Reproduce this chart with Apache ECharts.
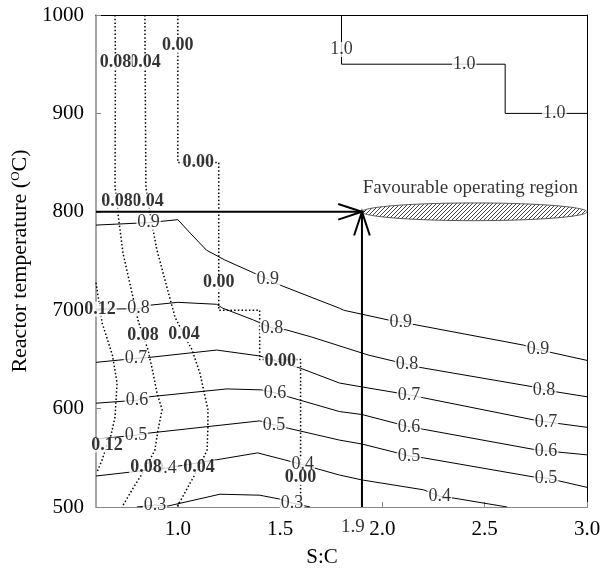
<!DOCTYPE html>
<html>
<head>
<meta charset="utf-8">
<script src="https://cdn.jsdelivr.net/npm/echarts@6/dist/echarts.min.js"></script>
<style>
  html, body { margin: 0; padding: 0; background: #fff; }
  #chart { width: 612px; height: 571px; }
</style>
</head>
<body>
<div id="chart"></div>
<script>
// Axis tick values
const xTicks = [1.0, 1.5, 2.0, 2.5, 3.0];
const yRange = [500, 1000];

// Solid contours: [S:C, temperature] vertices, and where each level is labelled
const contour10 = [[1.8, 1000], [1.8, 965], [1.8, 950], [2.4, 950], [2.6, 950], [2.6, 900], [2.84, 900], [3.0, 900]];
const contour10Labels = [[1.8, 965], [2.4, 950], [2.84, 900]];

const contour09 = [[0.6, 786.5], [0.857, 789], [1.0, 792], [1.06, 778.5], [1.14, 761], [1.23, 751], [1.37, 738], [1.44, 731.5],
  [1.5, 725.5], [1.79, 702], [1.81, 700], [2.03, 690], [2.09, 688], [2.69, 664.5], [2.76, 660], [3.0, 649]];
const contour09Labels = [[0.857, 789], [1.44, 731.5], [2.09, 688], [2.76, 660]];

const contour08 = [[0.6, 701], [0.808, 701.5], [0.86, 705], [1.0, 708], [1.19, 706], [1.22, 702], [1.37, 690], [1.46, 682],
  [1.53, 680], [1.65, 673], [1.93, 654.5], [2.12, 645], [2.18, 642], [2.74, 622], [2.79, 619], [3.0, 612]];
const contour08Labels = [[0.808, 701.5], [1.46, 682], [2.12, 645], [2.79, 619]];

const contour07 = [[0.6, 647], [0.795, 651], [0.86, 652], [1.19, 659.5], [1.4, 653.5], [1.6, 641], [1.79, 626], [1.9, 622],
  [2.13, 614], [2.2, 611], [2.74, 588.5], [2.8, 586.5], [3.0, 581]];
const contour07Labels = [[0.795, 651], [2.13, 614], [2.8, 586.5]];

const contour06 = [[0.6, 605.5], [0.8, 608.5], [0.86, 612], [1.24, 620], [1.41, 619], [1.475, 616], [1.54, 612], [1.79, 597],
  [1.9, 594], [2.13, 581.5], [2.2, 579], [2.74, 558.5], [2.8, 557], [3.0, 553]];
const contour06Labels = [[0.8, 608.5], [1.475, 616], [2.13, 581.5], [2.8, 557]];

const contour05 = [[0.6, 569], [0.795, 573], [0.854, 575], [1.4, 587.5], [1.47, 583.5], [1.54, 580], [1.79, 568], [1.9, 564],
  [2.13, 552], [2.2, 550], [2.74, 530.5], [2.8, 529.5], [3.0, 520]];
const contour05Labels = [[0.795, 573], [1.47, 583.5], [2.13, 552], [2.8, 529.5]];

const contour04 = [[0.6, 531.5], [0.94, 539.5], [1.19, 548], [1.39, 555], [1.52, 548], [1.61, 543], [1.67, 539.5], [1.79, 532.5],
  [1.9, 527.5], [2.2, 517.5], [2.28, 511], [2.35, 509], [2.61, 500]];
const contour04Labels = [[0.94, 539.5], [1.61, 543], [2.28, 511]];

const contour03 = [[0.8, 500], [0.888, 502], [0.952, 501], [1.206, 513], [1.4, 512], [1.5, 508], [1.558, 504], [1.646, 500]];
const contour03Labels = [[0.888, 502], [1.558, 504]];

// Dotted contours (bold labels)
const contour012 = [[0.6, 728], [0.62, 701], [0.63, 687], [0.68, 654.5], [0.703, 626], [0.693, 591.5], [0.668, 568],
  [0.654, 563], [0.63, 548], [0.605, 535.5]];
const contour012Labels = [[0.62, 701], [0.654, 563]];

const contour008 = [[0.693, 1000], [0.695, 952], [0.693, 825], [0.703, 811], [0.708, 797], [0.732, 758], [0.776, 717.5],
  [0.805, 690], [0.83, 674], [0.854, 660], [0.879, 636], [0.898, 616], [0.923, 599], [0.903, 578], [0.888, 558],
  [0.844, 540], [0.781, 519], [0.727, 500]];
const contour008Labels = [[0.695, 952], [0.703, 811], [0.83, 674], [0.844, 540]];

const contour004 = [[0.839, 1000], [0.84, 952], [0.844, 825], [0.854, 811], [0.874, 787], [0.898, 761], [0.947, 723],
  [0.986, 693], [1.03, 675], [1.069, 660], [1.108, 636], [1.147, 599], [1.147, 581], [1.143, 558], [1.103, 540],
  [1.059, 524], [0.996, 500]];
const contour004Labels = [[0.84, 952], [0.854, 811], [1.03, 675], [1.103, 540]];

const contour000 = [[1.0, 1000], [1.0, 969], [1.0, 850], [1.1, 850], [1.2, 850], [1.2, 728], [1.2, 700], [1.4, 700],
  [1.4, 650], [1.5, 650], [1.6, 650], [1.6, 530], [1.6, 500]];
const contour000Labels = [[1.0, 969], [1.1, 850], [1.2, 728], [1.5, 648], [1.6, 530]];

// Chosen operating point (S:C = 1.9, 800 °C) and the favourable region
const arrowSegments = [[0.6, 800, 1.9, 800], [1.9, 500, 1.9, 800]];
const operatingPoint = [[1.9, 500]];
const regionBox = [[1.9, 3.0, 791, 809]];
const regionTitle = [[2.43, 824]];

const FONT = '"Liberation Serif", "Times New Roman", serif';

function contourLine(path, dotted) {
  return {
    type: 'line', data: path, symbol: 'none', silent: true, animation: false, z: 2,
    lineStyle: dotted
      ? { color: '#000', width: 1.5, type: [1.5, 2.2] }
      : { color: '#000', width: 1 }
  };
}

function contourLabels(points, text, bold, z) {
  return {
    type: 'scatter', data: points, symbolSize: 1, silent: true, animation: false, z: z,
    itemStyle: { color: 'transparent' },
    label: {
      show: true, position: 'inside', formatter: text, color: '#000',
      fontFamily: FONT, fontSize: 18, fontWeight: bold ? 'bold' : 'normal',
      backgroundColor: '#fff', padding: [0, 1], lineHeight: 15
    }
  };
}

// diagonal hatch tile for the region ellipse
const hatch = document.createElement('canvas');
hatch.width = 4; hatch.height = 4;
const hg = hatch.getContext('2d');
hg.fillStyle = '#fff'; hg.fillRect(0, 0, 4, 4);
hg.strokeStyle = '#444'; hg.lineWidth = 1;
hg.beginPath();
hg.moveTo(0, 4); hg.lineTo(4, 0);
hg.moveTo(-1, 1); hg.lineTo(1, -1);
hg.moveTo(3, 5); hg.lineTo(5, 3);
hg.stroke();

const series = [
  contourLine(contour10, false), contourLine(contour09, false), contourLine(contour08, false),
  contourLine(contour07, false), contourLine(contour06, false), contourLine(contour05, false),
  contourLine(contour04, false), contourLine(contour03, false),
  contourLine(contour012, true), contourLine(contour008, true), contourLine(contour004, true), contourLine(contour000, true),
  {
    type: 'custom', data: regionBox, encode: { x: [0, 1], y: [2, 3] }, silent: true, animation: false, z: 3,
    renderItem: function (params, api) {
      const a = api.coord([api.value(0), api.value(2)]);
      const b = api.coord([api.value(1), api.value(3)]);
      const cx = (a[0] + b[0]) / 2, cy = (a[1] + b[1]) / 2;
      const rx = Math.abs(b[0] - a[0]) / 2, ry = Math.abs(b[1] - a[1]) / 2;
      const pts = [];
      for (let i = 0; i < 120; i++) {
        const t = i / 120 * Math.PI * 2;
        pts.push([cx + rx * Math.cos(t), cy + ry * Math.sin(t)]);
      }
      return {
        type: 'polygon', shape: { points: pts },
        style: { fill: { image: hatch, repeat: 'repeat' }, stroke: '#555', lineWidth: 1 }
      };
    }
  },
  {
    type: 'custom', data: arrowSegments, encode: { x: [0, 2], y: [1, 3] }, silent: true, animation: false, z: 4,
    renderItem: function (params, api) {
      const a = api.coord([api.value(0), api.value(1)]);
      const b = api.coord([api.value(2), api.value(3)]);
      const ang = Math.atan2(b[1] - a[1], b[0] - a[0]);
      const L = 25, spread = 0.32;
      const p1 = [b[0] - L * Math.cos(ang - spread), b[1] - L * Math.sin(ang - spread)];
      const p2 = [b[0] - L * Math.cos(ang + spread), b[1] - L * Math.sin(ang + spread)];
      return {
        type: 'group', children: [
          { type: 'line', shape: { x1: a[0], y1: a[1], x2: b[0], y2: b[1] }, style: { stroke: '#000', lineWidth: 2 } },
          { type: 'polyline', shape: { points: [p1, b, p2] }, style: { stroke: '#000', lineWidth: 2, fill: null } }
        ]
      };
    }
  },
  contourLabels(contour10Labels, '1.0', false, 5),
  contourLabels(contour09Labels, '0.9', false, 5),
  contourLabels(contour08Labels, '0.8', false, 5),
  contourLabels(contour07Labels, '0.7', false, 5),
  contourLabels(contour06Labels, '0.6', false, 5),
  contourLabels(contour05Labels, '0.5', false, 5),
  contourLabels(contour04Labels, '0.4', false, 5),
  contourLabels(contour03Labels, '0.3', false, 5),
  contourLabels(contour012Labels, '0.12', true, 6),
  contourLabels(contour004Labels, '0.04', true, 6),
  contourLabels(contour008Labels, '0.08', true, 7),
  contourLabels(contour000Labels, '0.00', true, 6),
  {
    type: 'scatter', data: regionTitle, symbolSize: 1, silent: true, animation: false, z: 5,
    itemStyle: { color: 'transparent' },
    label: { show: true, position: 'inside', formatter: 'Favourable operating region', color: '#000', fontFamily: FONT, fontSize: 19 }
  },
  {
    type: 'scatter', data: operatingPoint, symbolSize: 1, silent: true, animation: false, z: 5, clip: false,
    itemStyle: { color: 'transparent' },
    label: { show: true, position: 'inside', offset: [-9, 20], formatter: '1.9', color: '#000', fontFamily: FONT, fontSize: 19 }
  }
];

const chart = echarts.init(document.getElementById('chart'), null, { renderer: 'canvas' });
chart.setOption({
  animation: false,
  backgroundColor: '#fff',
  grid: { left: 96, right: 25, top: 15, bottom: 64, containLabel: false, outerBoundsMode: 'none' },
  xAxis: [
    {
      type: 'value', min: 0.6, max: 3.0, position: 'bottom',
      name: 'S:C', nameLocation: 'middle', nameGap: 40,
      nameTextStyle: { fontFamily: FONT, fontSize: 21, color: '#000', padding: [0, 39, 0, 0] },
      axisLine: { show: true, lineStyle: { color: '#888', width: 1 } },
      axisTick: { show: true, inside: true, length: 5, lineStyle: { color: '#888' }, customValues: xTicks },
      axisLabel: { customValues: xTicks, formatter: v => v.toFixed(1), fontFamily: FONT, fontSize: 21, color: '#000', margin: 12 },
      splitLine: { show: false }
    },
    {
      type: 'value', min: 0.6, max: 3.0, position: 'top',
      axisLine: { show: true, lineStyle: { color: '#000', width: 1 } },
      axisTick: { show: false }, axisLabel: { show: false }, splitLine: { show: false }
    }
  ],
  yAxis: [
    {
      type: 'value', min: yRange[0], max: yRange[1], interval: 100,
      name: 'Reactor temperature ({sup|O}C)', nameLocation: 'middle', nameGap: 60, nameRotate: 90,
      nameTextStyle: {
        fontFamily: FONT, fontSize: 22, color: '#000',
        rich: { sup: { fontFamily: FONT, fontSize: 13, color: '#000', verticalAlign: 'top', padding: [0, 0, 8, 0] } }
      },
      axisLine: { show: true, lineStyle: { color: '#888', width: 1.5 } },
      axisTick: { show: true, inside: true, length: 5, lineStyle: { color: '#888' } },
      axisLabel: { formatter: v => String(v), fontFamily: FONT, fontSize: 21, color: '#000', margin: 12 },
      splitLine: { show: false }
    },
    {
      type: 'value', min: yRange[0], max: yRange[1], position: 'right',
      axisLine: { show: true, lineStyle: { color: '#000', width: 1 } },
      axisTick: { show: false }, axisLabel: { show: false }, splitLine: { show: false }
    }
  ],
  series: series
});
</script>
</body>
</html>
